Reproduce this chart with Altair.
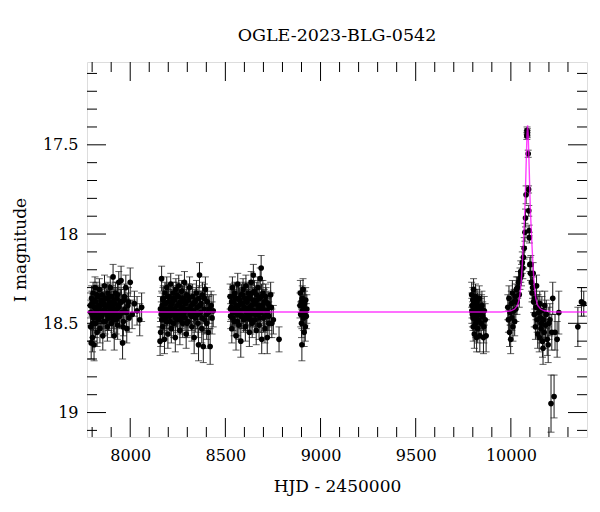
import altair as alt
import pandas as pd

# (HJD-2450000, I mag, error), per observing season
season1 = [
    (7790,18.40,0.07),(7792,18.52,0.08),(7795,18.61,0.09),(7797,18.36,0.07),(7800,18.45,0.07),
    (7802,18.58,0.08),(7805,18.33,0.06),(7807,18.47,0.07),(7810,18.62,0.09),(7812,18.41,0.07),
    (7815,18.30,0.06),(7818,18.50,0.08),(7820,18.38,0.07),(7823,18.44,0.07),(7826,18.55,0.08),
    (7829,18.35,0.06),(7832,18.42,0.07),(7835,18.48,0.07),(7838,18.31,0.06),(7841,18.53,0.08),
    (7844,18.40,0.07),(7847,18.37,0.07),(7850,18.46,0.07),(7853,18.34,0.06),(7856,18.57,0.08),
    (7859,18.43,0.07),(7862,18.39,0.07),(7865,18.29,0.06),(7868,18.49,0.07),(7871,18.41,0.07),
    (7874,18.36,0.07),(7877,18.45,0.07),(7880,18.52,0.08),(7883,18.33,0.06),(7886,18.40,0.07),
    (7889,18.47,0.07),(7892,18.38,0.07),(7895,18.30,0.06),(7898,18.44,0.07),(7901,18.50,0.08),
    (7904,18.35,0.06),(7907,18.41,0.07),(7910,18.24,0.07),(7913,18.48,0.07),(7916,18.57,0.08),
    (7919,18.39,0.07),(7922,18.33,0.06),(7925,18.45,0.07),(7928,18.42,0.07),(7931,18.36,0.06),
    (7934,18.51,0.08),(7937,18.40,0.07),(7940,18.27,0.06),(7944,18.46,0.07),(7948,18.38,0.07),
    (7952,18.26,0.08),(7956,18.44,0.07),(7960,18.61,0.09),(7964,18.49,0.08),(7968,18.37,0.07),
    (7972,18.42,0.07),(7977,18.30,0.07),(7982,18.53,0.08),(7988,18.40,0.07),(7994,18.47,0.08),
    (8000,18.27,0.08),(8010,18.45,0.08),(8022,18.39,0.07),(8036,18.43,0.08),(8050,18.48,0.09),
    (8060,18.41,0.08),
]
season1b = [
    (7793,18.44,0.07),(7799,18.39,0.07),(7804,18.50,0.08),(7809,18.37,0.07),(7814,18.46,0.07),
    (7819,18.42,0.07),(7825,18.34,0.07),(7831,18.47,0.07),(7837,18.40,0.07),(7843,18.45,0.07),
    (7849,18.38,0.07),(7855,18.43,0.07),(7861,18.49,0.08),(7867,18.36,0.07),(7873,18.41,0.07),
    (7879,18.44,0.07),(7885,18.47,0.07),(7891,18.35,0.07),(7897,18.42,0.07),(7903,18.39,0.07),
    (7909,18.46,0.07),(7915,18.37,0.07),(7921,18.43,0.07),(7927,18.48,0.08),(7933,18.34,0.07),
    (7939,18.41,0.07),(7946,18.45,0.07),(7954,18.38,0.07),(7962,18.52,0.08),(7970,18.35,0.07),
    (7980,18.44,0.08),(7991,18.38,0.08),
]
season2 = [
    (8157,18.60,0.08),(8160,18.55,0.08),(8163,18.45,0.07),(8165,18.25,0.07),(8168,18.40,0.07),
    (8171,18.52,0.08),(8174,18.36,0.07),(8177,18.47,0.07),(8180,18.59,0.08),(8183,18.33,0.06),
    (8186,18.42,0.07),(8189,18.49,0.07),(8192,18.30,0.06),(8195,18.44,0.07),(8198,18.56,0.08),
    (8201,18.38,0.07),(8204,18.35,0.07),(8207,18.46,0.07),(8210,18.41,0.07),(8213,18.28,0.06),
    (8216,18.53,0.08),(8219,18.39,0.07),(8222,18.44,0.07),(8225,18.33,0.06),(8228,18.50,0.08),
    (8231,18.42,0.07),(8234,18.37,0.07),(8237,18.58,0.08),(8240,18.31,0.06),(8243,18.45,0.07),
    (8246,18.40,0.07),(8249,18.48,0.07),(8252,18.35,0.06),(8255,18.29,0.06),(8258,18.43,0.07),
    (8261,18.54,0.08),(8264,18.38,0.07),(8267,18.46,0.07),(8270,18.32,0.06),(8273,18.41,0.07),
    (8276,18.50,0.08),(8279,18.36,0.07),(8282,18.44,0.07),(8285,18.27,0.06),(8288,18.47,0.07),
    (8291,18.39,0.07),(8294,18.56,0.08),(8297,18.34,0.06),(8300,18.42,0.07),(8304,18.49,0.08),
    (8308,18.37,0.07),(8312,18.30,0.06),(8316,18.45,0.07),(8320,18.40,0.07),(8324,18.52,0.08),
    (8328,18.35,0.07),(8332,18.43,0.07),(8336,18.58,0.09),(8340,18.38,0.07),(8344,18.47,0.08),
    (8348,18.33,0.07),(8352,18.41,0.07),(8356,18.50,0.08),(8359,18.62,0.09),(8362,18.36,0.07),
    (8364,18.23,0.07),(8368,18.44,0.08),(8372,18.39,0.07),(8376,18.53,0.08),(8380,18.34,0.07),
    (8384,18.63,0.09),(8388,18.42,0.08),(8392,18.48,0.08),(8395,18.31,0.07),(8400,18.45,0.08),
    (8405,18.38,0.08),(8410,18.55,0.09),(8415,18.42,0.08),(8420,18.63,0.10),(8425,18.40,0.08),
    (8430,18.47,0.09),(8436,18.43,0.09),
]
season2b = [
    (8159,18.42,0.07),(8166,18.48,0.07),(8172,18.37,0.07),(8179,18.44,0.07),(8185,18.39,0.07),
    (8191,18.46,0.07),(8197,18.35,0.07),(8203,18.43,0.07),(8209,18.49,0.08),(8215,18.38,0.07),
    (8221,18.45,0.07),(8227,18.36,0.07),(8233,18.42,0.07),(8239,18.47,0.07),(8245,18.34,0.07),
    (8251,18.44,0.07),(8257,18.39,0.07),(8263,18.48,0.08),(8269,18.41,0.07),(8275,18.36,0.07),
    (8281,18.45,0.07),(8287,18.38,0.07),(8293,18.43,0.07),(8299,18.50,0.08),(8306,18.35,0.07),
    (8314,18.42,0.07),(8322,18.46,0.08),(8330,18.39,0.07),(8338,18.44,0.08),(8346,18.37,0.07),
    (8354,18.45,0.08),(8366,18.40,0.08),(8378,18.47,0.08),(8390,18.36,0.08),(8402,18.50,0.09),
    (8412,18.44,0.09),
]
season3 = [
    (8525,18.35,0.07),(8528,18.46,0.07),(8531,18.41,0.07),(8534,18.53,0.08),(8537,18.30,0.06),
    (8540,18.44,0.07),(8543,18.38,0.07),(8546,18.49,0.08),(8549,18.33,0.06),(8552,18.42,0.07),
    (8556,18.57,0.08),(8559,18.36,0.07),(8562,18.45,0.07),(8565,18.28,0.06),(8568,18.40,0.07),
    (8571,18.51,0.08),(8574,18.37,0.07),(8577,18.43,0.07),(8581,18.60,0.09),(8584,18.34,0.06),
    (8587,18.46,0.07),(8590,18.39,0.07),(8593,18.31,0.06),(8596,18.48,0.07),(8599,18.41,0.07),
    (8602,18.36,0.07),(8605,18.52,0.08),(8608,18.29,0.06),(8611,18.44,0.07),(8614,18.38,0.07),
    (8617,18.47,0.07),(8620,18.33,0.06),(8623,18.42,0.07),(8626,18.55,0.08),(8629,18.35,0.07),
    (8632,18.45,0.07),(8635,18.27,0.06),(8638,18.40,0.07),(8641,18.50,0.08),(8644,18.37,0.07),
    (8647,18.23,0.06),(8650,18.43,0.07),(8653,18.32,0.06),(8656,18.48,0.07),(8659,18.39,0.07),
    (8662,18.54,0.08),(8665,18.34,0.07),(8668,18.45,0.07),(8671,18.30,0.06),(8674,18.42,0.07),
    (8677,18.51,0.08),(8680,18.36,0.07),(8683,18.25,0.06),(8686,18.44,0.07),(8688,18.19,0.07),
    (8691,18.59,0.08),(8694,18.40,0.07),(8697,18.33,0.07),(8700,18.47,0.08),(8704,18.38,0.07),
    (8708,18.53,0.08),(8712,18.35,0.07),(8716,18.43,0.08),(8720,18.58,0.09),(8724,18.39,0.07),
    (8728,18.46,0.08),(8733,18.41,0.08),(8738,18.34,0.07),(8744,18.50,0.08),(8752,18.48,0.08),
    (8782,18.59,0.07),
]
season3b = [
    (8527,18.42,0.07),(8533,18.38,0.07),(8539,18.47,0.07),(8545,18.35,0.07),(8551,18.44,0.07),
    (8557,18.40,0.07),(8563,18.49,0.08),(8569,18.36,0.07),(8575,18.43,0.07),(8580,18.39,0.07),
    (8586,18.46,0.07),(8592,18.34,0.07),(8598,18.42,0.07),(8604,18.47,0.07),(8610,18.38,0.07),
    (8616,18.44,0.07),(8622,18.36,0.07),(8628,18.41,0.07),(8634,18.48,0.08),(8640,18.33,0.07),
    (8646,18.43,0.07),(8652,18.39,0.07),(8658,18.45,0.07),(8664,18.37,0.07),(8670,18.44,0.07),
    (8676,18.40,0.07),(8682,18.47,0.08),(8690,18.35,0.07),(8698,18.42,0.08),(8706,18.46,0.08),
    (8714,18.38,0.08),(8722,18.44,0.08),(8730,18.50,0.08),(8741,18.41,0.08),
]
season4 = [
    (8892,18.40,0.07),(8894,18.33,0.07),(8896,18.45,0.07),(8898,18.38,0.06),(8900,18.50,0.08),
    (8902,18.62,0.09),(8904,18.36,0.07),(8906,18.43,0.07),(8908,18.31,0.06),(8910,18.47,0.07),
    (8912,18.41,0.07),(8914,18.55,0.08),(8916,18.39,0.07),(8918,18.44,0.07),(8920,18.52,0.08),
    (8922,18.37,0.07),(8925,18.46,0.07),(8928,18.42,0.08),
]
season5 = [
    (9794,18.34,0.07),(9796,18.40,0.07),(9798,18.45,0.07),(9800,18.37,0.07),(9802,18.52,0.08),
    (9804,18.31,0.06),(9806,18.43,0.07),(9808,18.56,0.08),(9810,18.39,0.07),(9812,18.47,0.07),
    (9814,18.35,0.07),(9816,18.50,0.08),(9818,18.42,0.07),(9820,18.58,0.08),(9822,18.38,0.07),
    (9824,18.45,0.07),(9826,18.53,0.08),(9828,18.41,0.07),(9831,18.48,0.08),(9834,18.36,0.07),
    (9837,18.57,0.09),(9840,18.44,0.08),(9844,18.50,0.08),(9848,18.40,0.08),(9852,18.46,0.08),
    (9856,18.58,0.09),(9860,18.43,0.08),(9865,18.48,0.09),(9870,18.57,0.09),
    (9795,18.43,0.07),(9801,18.47,0.07),(9807,18.38,0.07),(9813,18.44,0.07),(9819,18.49,0.08),
    (9825,18.40,0.07),(9833,18.45,0.08),(9846,18.42,0.08),(9858,18.52,0.09),
]
season6 = [
    (9984,18.41,0.07),(9987,18.48,0.07),(9990,18.36,0.07),(9993,18.55,0.08),(9996,18.44,0.07),
    (9999,18.59,0.08),(10002,18.39,0.07),(10005,18.47,0.07),(10008,18.33,0.07),(10011,18.52,0.08),
    (10014,18.43,0.07),(10017,18.38,0.07),(10020,18.49,0.08),(10023,18.35,0.07),(10026,18.42,0.07),
    (10029,18.31,0.07),(10032,18.38,0.07),(10036,18.30,0.06),(10040,18.27,0.06),(10044,18.34,0.07),
    (10048,18.25,0.06),(10052,18.21,0.06),(10056,18.23,0.06),(10060,18.16,0.06),(10063,18.19,0.06),
    (10066,18.13,0.06),(10070,18.08,0.06),(10074,17.99,0.05),(10077,17.91,0.05),(10080,17.78,0.05),
    (10084,17.45,0.02),(10085,17.42,0.02),(10086,17.44,0.02),(10087,17.43,0.02),(10091,17.55,0.02),
    (10093,17.75,0.02),(10094,17.87,0.03),(10096,17.98,0.03),(10097,18.02,0.03),(10100,18.17,0.04),
    (10103,18.22,0.04),(10105,18.17,0.05),(10108,18.27,0.05),(10111,18.33,0.05),(10114,18.30,0.06),
    (10117,18.22,0.06),(10120,18.38,0.06),(10123,18.45,0.07),(10126,18.36,0.06),(10129,18.52,0.07),
    (10132,18.41,0.07),(10135,18.29,0.06),(10138,18.48,0.07),(10141,18.56,0.08),(10143,18.41,0.07),
    (10146,18.44,0.07),(10149,18.58,0.08),(10152,18.39,0.07),(10155,18.47,0.08),(10158,18.53,0.08),
    (10160,18.50,0.08),(10163,18.43,0.08),(10166,18.60,0.09),(10169,18.64,0.09),(10172,18.48,0.08),
    (10175,18.55,0.09),(10178,18.40,0.08),(10182,18.51,0.09),(10186,18.45,0.08),(10191,18.59,0.09),
    (10196,18.62,0.10),(10200,18.50,0.09),(10205,18.48,0.09),(10211,18.95,0.16),(10215,18.55,0.10),
    (10220,18.36,0.09),(10227,18.91,0.12),(10232,18.55,0.10),(10243,18.59,0.10),(10252,18.44,0.12),
]
season7 = [(10352,18.52,0.11),(10371,18.38,0.08),(10383,18.39,0.07)]

# microlensing model curve
model_t = [7773, 9950, 10000, 10020, 10035, 10045, 10053, 10060, 10067, 10072, 10076, 10080,
           10083, 10085, 10088, 10091, 10093, 10096, 10100, 10104, 10109, 10116, 10123, 10131,
           10141, 10156, 10176, 10226, 10400]
model_m = [18.437, 18.437, 18.43, 18.42, 18.40, 18.36, 18.29, 18.17, 18.02, 17.90, 17.78, 17.62,
           17.51, 17.44, 17.39, 17.44, 17.51, 17.62, 17.78, 17.90, 18.02, 18.17, 18.29, 18.36,
           18.40, 18.42, 18.43, 18.437, 18.437]

# axis ticks
x_major = [8000, 8500, 9000, 9500, 10000]
x_minor = [7800, 7900, 8100, 8200, 8300, 8400, 8600, 8700, 8800, 8900, 9100, 9200, 9300, 9400,
           9600, 9700, 9800, 9900, 10100, 10200, 10300]
y_major = [17.5, 18.0, 18.5, 19.0]
y_minor = [17.1, 17.2, 17.3, 17.4, 17.6, 17.7, 17.8, 17.9, 18.1, 18.2, 18.3, 18.4,
           18.6, 18.7, 18.8, 18.9, 19.1]

rows = (season1 + season1b + season2 + season2b + season3 + season3b + season4
        + season5 + season6 + season7)
df = pd.DataFrame(rows, columns=["t", "m", "e"])
df["lo"] = df["m"] - df["e"]
df["hi"] = df["m"] + df["e"]
model = pd.DataFrame({"t": model_t, "m": model_m})

W, H = 500, 375
FONT = "DejaVu Serif"
xs = alt.Scale(domain=[7773, 10400], nice=False, zero=False)
ys = alt.Scale(domain=[17.036, 19.137], reverse=True, nice=False, zero=False)
xaxis = alt.Axis(values=x_major, format="d", ticks=False, domain=False, grid=False,
                 labelFont=FONT, labelFontSize=16, labelColor="black", labelPadding=10,
                 title="HJD - 2450000", titleFont=FONT, titleFontSize=17,
                 titleFontWeight="normal", titleColor="black", titlePadding=15)
yaxis = alt.Axis(values=y_major, format="~g", ticks=False, domain=False, grid=False,
                 labelFont=FONT, labelFontSize=16, labelColor="black", labelPadding=9,
                 title="I magnitude", titleFont=FONT, titleFontSize=17,
                 titleFontWeight="normal", titleColor="black", titlePadding=13)


def X(f):
    return alt.X(f, type="quantitative", scale=xs, axis=xaxis, title="HJD - 2450000")


def Y(f):
    return alt.Y(f, type="quantitative", scale=ys, axis=yaxis, title="I magnitude")


base = alt.Chart(df)
bars = base.mark_rule(color="#1a1a1a", strokeWidth=1, clip=True).encode(
    x=X("t"), y=Y("lo"), y2="hi")
cap_lo = base.mark_tick(color="#1a1a1a", orient="horizontal", size=7, thickness=1, clip=True).encode(
    x=X("t"), y=Y("lo"))
cap_hi = base.mark_tick(color="#1a1a1a", orient="horizontal", size=7, thickness=1, clip=True).encode(
    x=X("t"), y=Y("hi"))
pts = base.mark_circle(color="black", size=32, opacity=1, clip=True).encode(x=X("t"), y=Y("m"))
line = alt.Chart(model).mark_line(color="#ff00ff", strokeWidth=1.4, opacity=0.75, clip=True).encode(
    x=X("t"), y=Y("m"))

xmaj = alt.Chart(pd.DataFrame({"t": x_major}))
xmin = alt.Chart(pd.DataFrame({"t": x_minor}))
ymaj = alt.Chart(pd.DataFrame({"m": y_major}))
ymin = alt.Chart(pd.DataFrame({"m": y_minor}))
tk = dict(color="black", strokeWidth=1)
ticks = [
    xmaj.mark_rule(**tk).encode(x=X("t"), y=alt.value(H), y2=alt.value(H - 19)),
    xmaj.mark_rule(**tk).encode(x=X("t"), y=alt.value(0), y2=alt.value(19)),
    xmin.mark_rule(**tk).encode(x=X("t"), y=alt.value(H), y2=alt.value(H - 10)),
    xmin.mark_rule(**tk).encode(x=X("t"), y=alt.value(0), y2=alt.value(10)),
    ymaj.mark_rule(**tk).encode(y=Y("m"), x=alt.value(0), x2=alt.value(19)),
    ymaj.mark_rule(**tk).encode(y=Y("m"), x=alt.value(W), x2=alt.value(W - 19)),
    ymin.mark_rule(**tk).encode(y=Y("m"), x=alt.value(0), x2=alt.value(10)),
    ymin.mark_rule(**tk).encode(y=Y("m"), x=alt.value(W), x2=alt.value(W - 10)),
]

chart = alt.layer(bars, cap_lo, cap_hi, pts, line, *ticks).properties(
    width=W, height=H,
    title=alt.TitleParams("OGLE-2023-BLG-0542", font=FONT, fontSize=17.5, fontWeight="normal",
                          color="black", anchor="middle", offset=17),
    autosize=alt.AutoSizeParams(type="none"),
    padding={"left": 79, "top": 54, "right": 4, "bottom": 66},
).configure_view(stroke="black", strokeWidth=1.2).configure(background="white")

chart.save("out.html", embed_options={"renderer": "svg", "actions": False})
